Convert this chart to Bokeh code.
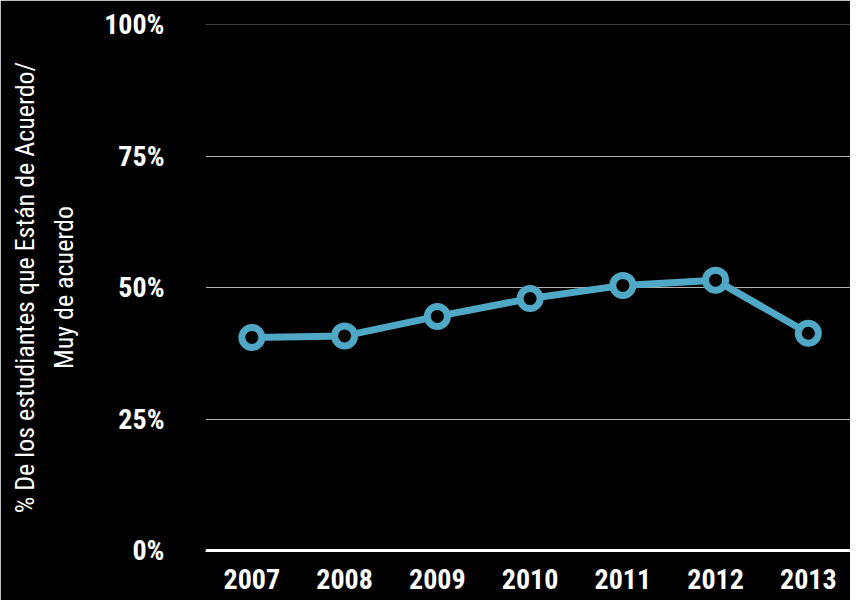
from bokeh.plotting import figure
from bokeh.models import FixedTicker, Range1d
from bokeh.embed import file_html
from bokeh.resources import INLINE

years = [2007, 2008, 2009, 2010, 2011, 2012, 2013]
values = [40.5, 40.8, 44.5, 47.9, 50.4, 51.4, 41.3]
y_ticks = [0, 25, 50, 75, 100]
y_tick_labels = ["0%", "25%", "50%", "75%", "100%"]
x_tick_labels = ["2007", "2008", "2009", "2010", "2011", "2012", "2013"]
y_title = "% De los estudiantes que Están de Acuerdo/\nMuy de acuerdo"

LINE = "#4fa8c6"
FONT = "Roboto Condensed"

p = figure(width=850, height=600, output_backend="svg", toolbar_location=None,
           x_range=Range1d(2006.5, 2013.455), y_range=Range1d(0, 100),
           background_fill_color="black", border_fill_color="black",
           min_border_left=205, min_border_right=0, min_border_top=24, min_border_bottom=50)
p.outline_line_color = None

p.line(years, values, line_color=LINE, line_width=7)
p.scatter(years, values, size=20, fill_color="black", line_color=LINE, line_width=7)

p.xgrid.visible = False
p.ygrid.grid_line_color = "#b0b0b0"
p.ygrid.grid_line_width = 1
p.ygrid.ticker = FixedTicker(ticks=y_ticks)

p.yaxis.ticker = FixedTicker(ticks=y_ticks)
p.yaxis.major_label_overrides = {t: l for t, l in zip(y_ticks, y_tick_labels)}
p.yaxis.axis_line_color = "black"
p.yaxis.major_tick_line_color = None
p.yaxis.minor_tick_line_color = None
p.yaxis.major_label_standoff = 35
p.yaxis.major_label_text_font = FONT
p.yaxis.major_label_text_font_style = "bold"
p.yaxis.major_label_text_font_size = "28px"
p.yaxis.major_label_text_color = "white"
p.yaxis.axis_label = y_title
p.yaxis.axis_label_text_font = FONT
p.yaxis.axis_label_text_font_style = "normal"
p.yaxis.axis_label_text_font_size = "26px"
p.yaxis.axis_label_text_line_height = 1.3
p.yaxis.axis_label_text_color = "white"
p.yaxis.axis_label_standoff = 22

p.xaxis.ticker = FixedTicker(ticks=years)
p.xaxis.major_label_overrides = {y: l for y, l in zip(years, x_tick_labels)}
p.xaxis.axis_line_color = "white"
p.xaxis.axis_line_width = 3
p.xaxis.major_tick_line_color = None
p.xaxis.minor_tick_line_color = None
p.xaxis.major_label_standoff = 12
p.xaxis.major_label_text_font = FONT
p.xaxis.major_label_text_font_style = "bold"
p.xaxis.major_label_text_font_size = "28px"
p.xaxis.major_label_text_color = "white"

open("out.html", "w").write(file_html(p, INLINE))
